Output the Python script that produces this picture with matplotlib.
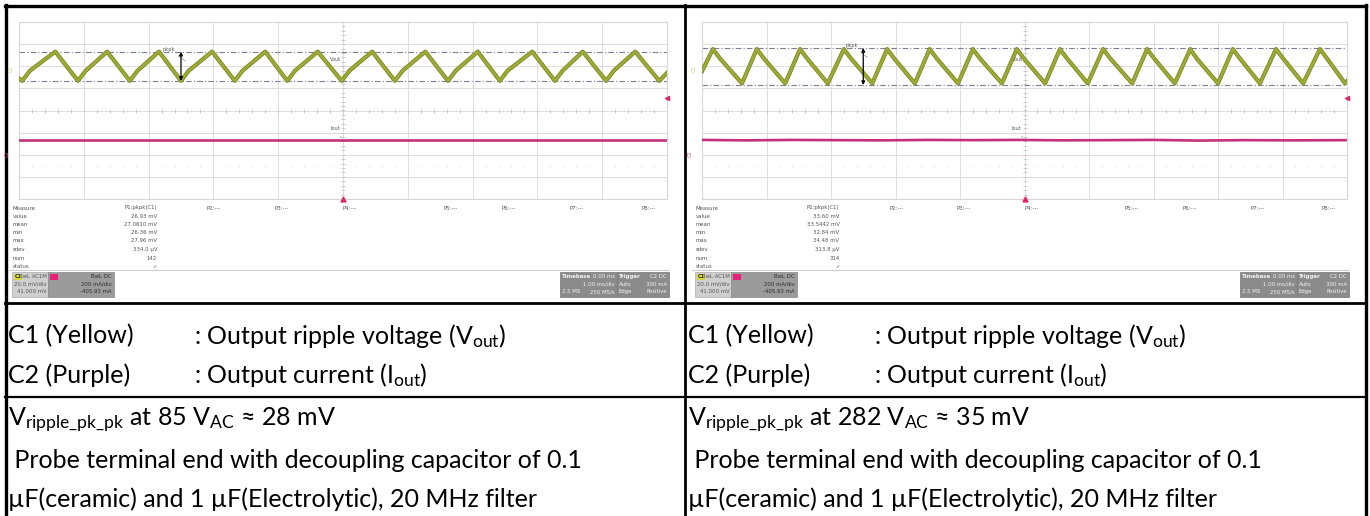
import numpy as np
import matplotlib.pyplot as plt
from matplotlib.patches import Rectangle, Polygon

plt.rcParams['font.family'] = ['Lato', 'DejaVu Sans']
plt.rcParams['mathtext.fontset'] = 'custom'
plt.rcParams['mathtext.rm'] = 'Lato'
plt.rcParams['mathtext.it'] = 'Lato:italic'

# C1 ripple trace vertices (time in ms, ripple in mV around its centre)
t_c1_85 = [-5.00, -4.95, -4.83, -4.44, -4.09, -3.97, -3.64, -3.29, -3.17, -2.84,
           -2.50, -2.38, -2.02, -1.67, -1.55, -1.20, -0.86, -0.74, -0.39, -0.02,
           0.10, 0.45, 0.80, 0.92, 1.27, 1.62, 1.74, 2.08, 2.42, 2.54, 2.92, 3.27,
           3.39, 3.70, 4.06, 4.18, 4.51, 4.88, 5.00]
v_c1_85 = [-11.0, -13.2, -4.0, 13.2, -13.2, -4.0, 13.2, -13.2, -4.0, 13.2,
           -13.2, -4.0, 13.2, -13.2, -4.0, 13.2, -13.2, -4.0, 13.2, -13.2,
           -4.0, 13.2, -13.2, -4.0, 13.2, -13.2, -4.0, 13.2, -13.2, -4.0, 13.2, -13.2,
           -4.0, 13.2, -13.2, -4.0, 13.2, -13.2, -6.0]

t_c1_282 = [-5.00, -4.83, -4.72, -4.38, -4.15, -4.04, -3.71, -3.48, -3.37, -3.05,
            -2.80, -2.69, -2.36, -2.13, -2.02, -1.70, -1.47, -1.36, -1.03, -0.80,
            -0.69, -0.35, -0.12, -0.01, 0.32, 0.55, 0.66, 0.98, 1.22, 1.33, 1.67,
            1.90, 2.01, 2.33, 2.57, 2.67, 3.00, 3.23, 3.34, 3.65, 3.90, 4.01, 4.32,
            4.58, 4.69, 4.97, 5.00]
v_c1_282 = [-4.5, 15.5, 7.0, -15.5, 15.5, 7.0, -15.5, 15.5, 7.0, -15.5,
            15.5, 7.0, -15.5, 15.5, 7.0, -15.5, 15.5, 7.0, -15.5, 15.5,
            7.0, -15.5, 15.5, 7.0, -15.5, 15.5, 7.0, -15.5, 15.5, 7.0, -15.5,
            15.5, 7.0, -15.5, 15.5, 7.0, -15.5, 15.5, 7.0, -15.5, 15.5, 7.0, -15.5,
            15.5, 7.0, -15.5, -13.5]

# C2 output current trace (screen divisions)
t_c2_85 = [-5.0, -2.5, 0.0, 2.5, 5.0]
d_c2_85 = [-1.34, -1.34, -1.34, -1.34, -1.34]
t_c2_282 = [-5.0, -4.3, -3.6, -2.9, -2.2, -1.5, -0.8, -0.1, 0.6, 1.3, 2.0, 2.7, 3.4, 4.1, 5.0]
d_c2_282 = [-1.33, -1.35, -1.33, -1.34, -1.35, -1.33, -1.34, -1.33, -1.35, -1.34, -1.33, -1.36, -1.34, -1.35, -1.34]

cursor_85 = [13.2, -13.2]
cursor_282 = [16.5, -17.0]

meas_rows = ['Measure', 'value', 'mean', 'min', 'max', 'sdev', 'num', 'status']
meas_85 = ['P1:pkpk(C1)', '26.93 mV', '27.0610 mV', '26.36 mV', '27.96 mV', '334.0 µV', '142', '✓']
meas_282 = ['P1:pkpk(C1)', '33.60 mV', '33.5442 mV', '32.84 mV', '34.48 mV', '313.8 µV', '314', '✓']
p_labels = ['P2:---', 'P3:---', 'P4:---', 'P5:---', 'P6:---', 'P7:---', 'P8:---']

c1_box = ['BwL AC1M', '20.0 mV/div', '41.000 mV']
c2_box = ['BwL DC', '200 mA/div', '-405.93 mA']
tb_box = ['Timebase', '0.00 ms', '1.00 ms/div', '2.5 MS', '250 MS/s']
trig_box = ['Trigger', 'C2 DC', 'Auto', '300 mA', 'Edge', 'Positive']

C1_POS = 2.0       # div
C1_SCALE = 20.0    # mV/div
TRIG_LEVEL = 0.55  # div
ARROW_T = -2.50    # ms

row_c1 = ['C1 (Yellow)', ': Output ripple voltage (V$_{\\mathrm{out}}$)']
row_c2 = ['C2 (Purple)', ': Output current (I$_{\\mathrm{out}}$)']
notes_85 = ['V$_{\\mathrm{ripple\\_pk\\_pk}}$ at 85 V$_{\\mathrm{AC}}$ ≈ 28 mV',
            ' Probe terminal end with decoupling capacitor of 0.1',
            'µF(ceramic) and 1 µF(Electrolytic), 20 MHz filter']
notes_282 = ['V$_{\\mathrm{ripple\\_pk\\_pk}}$ at 282 V$_{\\mathrm{AC}}$ ≈ 35 mV',
             ' Probe terminal end with decoupling capacitor of 0.1',
             'µF(ceramic) and 1 µF(Electrolytic), 20 MHz filter']

W, H = 1370, 516
fig = plt.figure(figsize=(13.7, 5.16), dpi=100)
bg = fig.add_axes([0, 0, 1, 1])
bg.set_xlim(0, W)
bg.set_ylim(H, 0)
bg.axis('off')

small = dict(family='DejaVu Sans', fontsize=3.9, color='#555555')


def px_axes(x0, y0, x1, y1):
    return fig.add_axes([x0 / W, 1 - y1 / H, (x1 - x0) / W, (y1 - y0) / H])


def draw_scope(gx0, gx1, t1, v1, t2, d2, cursors, meas):
    gy0, gy1 = 22, 199
    ax = px_axes(gx0, gy0, gx1, gy1)
    ax.set_xlim(-5, 5)
    ax.set_ylim(-4, 4)
    ax.set_xticks([])
    ax.set_yticks([])
    for s in ax.spines.values():
        s.set_color('#d6d6d6')
        s.set_linewidth(0.8)
    for k in range(-4, 5):
        ax.axvline(k, color='#dddddd', lw=0.7, zorder=0)
    for k in range(-3, 4):
        c = '#ecd6de' if k in (-1, -2) else '#dddddd'
        ax.axhline(k, color=c, lw=0.7, zorder=0)
    ticks = np.arange(-5, 5.01, 0.2)
    ax.plot(ticks, np.zeros_like(ticks), '|', ms=2.5, color='#c4c4c4', mew=0.6)
    ax.plot(ticks, np.full_like(ticks, -2.5), '|', ms=2.0, color='#e2e2e2', mew=0.5)
    yt = np.arange(-4, 4.01, 0.2)
    ax.plot(np.zeros_like(yt), yt, '_', ms=2.5, color='#c4c4c4', mew=0.6)

    y1 = C1_POS + np.array(v1) / C1_SCALE
    for c in cursors:
        ax.axhline(C1_POS + c / C1_SCALE, color='#7a7f95', lw=0.8,
                   ls=(0, (5, 2, 1, 2)), zorder=1)
    ax.plot(t1, y1, color='#7f8a26', lw=3.0, zorder=3)
    ax.plot(t1, y1, color='#9daa35', lw=1.8, zorder=4)
    ax.plot(t2, d2, color='#c2327d', lw=1.9, zorder=3)

    hi = C1_POS + cursors[0] / C1_SCALE
    lo = C1_POS + cursors[1] / C1_SCALE
    ax.annotate('', xy=(ARROW_T, hi), xytext=(ARROW_T, lo),
                arrowprops=dict(arrowstyle='<|-|>', color='black', lw=0.9,
                                mutation_scale=5, shrinkA=0, shrinkB=0), zorder=5)
    ax.annotate('pkpk', xy=(ARROW_T + 0.1, hi - 0.5), xytext=(ARROW_T - 0.28, hi + 0.05),
                fontsize=3.6, color='#555555', family='DejaVu Sans',
                arrowprops=dict(arrowstyle='-', color='#777777', lw=0.4))
    ax.annotate('Vout', xy=(0, C1_POS - 0.05), xytext=(-0.2, C1_POS + 0.25),
                fontsize=3.6, color='#555555', family='DejaVu Sans',
                arrowprops=dict(arrowstyle='-', color='#777777', lw=0.4))
    ax.annotate('Iout', xy=(0, d2[0]), xytext=(-0.2, d2[0] + 0.45),
                fontsize=3.6, color='#555555', family='DejaVu Sans',
                arrowprops=dict(arrowstyle='-', color='#777777', lw=0.4))
    # trigger markers
    ax.plot([0], [-4], marker='^', ms=3.5, color='#e0245e', clip_on=False, zorder=6)
    ax.plot([5.0], [TRIG_LEVEL], marker='<', ms=3, color='#d62a6a', clip_on=False,
            zorder=6)
    ax.text(-5.12, C1_POS - 0.1, 'C1', rotation=90, fontsize=3.5, color='#c9c86a',
            ha='center', va='center', family='DejaVu Sans', clip_on=False)
    ax.text(-5.18, -1.95, 'C2', rotation=90, fontsize=3.5, color='#d4508a',
            ha='center', va='center', family='DejaVu Sans', clip_on=False)

    # logo
    lx = gx1 - 95
    bg.add_patch(Polygon([(lx, 34), (lx + 11, 32), (lx + 22, 34), (lx + 14, 37),
                          (lx + 12, 46), (lx + 10, 46), (lx + 8, 37)],
                         closed=True, color='black'))
    bg.text(lx + 26, 35.5, 'TELEDYNE LECROY', fontsize=4.3, va='center',
            family='DejaVu Sans', color='#222222')
    bg.text(lx + 26, 41.5, 'Everywhereyoulook', fontsize=3.9, va='center',
            family='DejaVu Sans', color='#666666')

    # measurement panel
    mx = gx0 - 6
    gw = gx1 - gx0
    ys = [208, 216.5, 225, 233, 241, 249.5, 258, 266]
    for r, v, y in zip(meas_rows, meas, ys):
        bg.text(mx, y, r, va='center', ha='left', **small)
        bg.text(gx0 + 0.213 * gw, y, v, va='center', ha='right', **small)
    for lab, f in zip(p_labels, [0.29, 0.395, 0.50, 0.655, 0.745, 0.85, 0.96]):
        bg.text(gx0 + f * gw, 208, lab, va='center', ha='left', **small)
    bg.plot([gx0 - 10, gx1 + 2], [270, 270], color='#cccccc', lw=0.8)

    # channel boxes
    bx = gx0 - 7
    bg.add_patch(Rectangle((bx, 272), 36, 25, fc='#cfcfcf', ec='#aaaaaa', lw=0.5))
    bg.add_patch(Rectangle((bx + 2, 273.5), 8, 6, fc='#d6d63c', ec='none'))
    bg.text(bx + 6, 276.5, 'C1', fontsize=3.6, ha='center', va='center',
            family='DejaVu Sans', color='#333333', weight='bold')
    bg.add_patch(Rectangle((bx + 36, 272), 66, 25, fc='#9b9b9b', ec='#888888', lw=0.5))
    bg.add_patch(Rectangle((bx + 38, 273.5), 8, 6, fc='#e8207a', ec='none'))
    for i, (a, b) in enumerate(zip(c1_box, c2_box)):
        bg.text(bx + 35, 276.5 + 7.5 * i, a, ha='right', va='center', **small)
        bg.text(bx + 100, 276.5 + 7.5 * i, b, ha='right', va='center',
                family='DejaVu Sans', fontsize=3.9, color='#2e2e2e')

    tx = gx1 - 107
    bg.add_patch(Rectangle((tx, 272), 57, 25, fc='#8b8b8b', ec='#777777', lw=0.5))
    bg.add_patch(Rectangle((tx + 57, 272), 52, 25, fc='#8b8b8b', ec='#777777', lw=0.5))
    wt = dict(family='DejaVu Sans', fontsize=3.9, color='#f2f2f2', va='center')
    bg.text(tx + 2, 276.5, tb_box[0], ha='left', weight='bold', **wt)
    bg.text(tx + 55, 276.5, tb_box[1], ha='right', **wt)
    bg.text(tx + 55, 284, tb_box[2], ha='right', **wt)
    bg.text(tx + 2, 291.5, tb_box[3], ha='left', **wt)
    bg.text(tx + 55, 291.5, tb_box[4], ha='right', **wt)
    bg.text(tx + 59, 276.5, trig_box[0], ha='left', weight='bold', **wt)
    bg.text(tx + 107, 276.5, trig_box[1], ha='right', **wt)
    bg.text(tx + 59, 284, trig_box[2], ha='left', **wt)
    bg.text(tx + 107, 284, trig_box[3], ha='right', **wt)
    bg.text(tx + 59, 291.5, trig_box[4], ha='left', **wt)
    bg.text(tx + 107, 291.5, trig_box[5], ha='right', **wt)


draw_scope(19, 667, t_c1_85, v_c1_85, t_c2_85, d_c2_85, cursor_85, meas_85)
draw_scope(702, 1347, t_c1_282, v_c1_282, t_c2_282, d_c2_282, cursor_282, meas_282)

# ---- table structure ----
lw_out = 2.4
bg.plot([5, 1366], [5.5, 5.5], color='black', lw=lw_out)
bg.plot([6, 6], [5, H], color='black', lw=lw_out)
bg.plot([1366, 1366], [5, H], color='black', lw=lw_out)
bg.plot([685, 685], [5, H], color='black', lw=2.0)
bg.plot([5, 1366], [303, 303], color='black', lw=2.0)
bg.plot([5, 1366], [397, 397], color='black', lw=1.6)

fs = 18
for x0 in (8, 688):
    bg.text(x0, 336, row_c1[0], fontsize=fs, va='center', ha='left')
    bg.text(x0 + 186, 336, row_c1[1], fontsize=fs, va='center', ha='left')
    bg.text(x0, 375, row_c2[0], fontsize=fs, va='center', ha='left')
    bg.text(x0 + 186, 375, row_c2[1], fontsize=fs, va='center', ha='left')

for x0, notes in ((8, notes_85), (688, notes_282)):
    for y, line in zip([420, 460, 499], notes):
        bg.text(x0, y, line, fontsize=fs, va='center', ha='left')

fig.savefig('out.png', dpi=100, facecolor='white')
